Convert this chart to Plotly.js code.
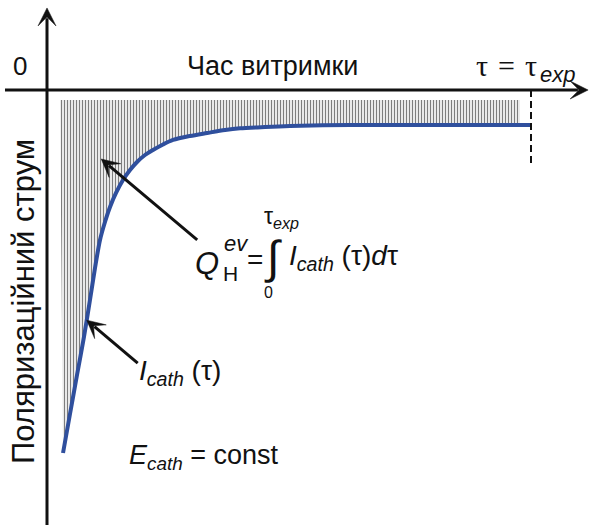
<!DOCTYPE html>
<html>
<head>
<meta charset="utf-8">
<script src="https://cdn.plot.ly/plotly-3.0.1.min.js"></script>
<style>
  html, body { margin: 0; padding: 0; background: #ffffff; }
  #chart { width: 590px; height: 525px; }
</style>
</head>
<body>
<div id="chart"></div>
<script>
// Cathodic polarisation current vs. exposure time (tau in units of tau_exp,
// current relative to its initial value; negative = cathodic).
const tau = [0.0331, 0.0475, 0.0620, 0.0764, 0.0888, 0.0992, 0.1095, 0.1198, 0.1302, 0.1426,
             0.1570, 0.1715, 0.1860, 0.2025, 0.2190, 0.2397, 0.2603, 0.2955, 0.3306, 0.3678,
             0.3988, 0.4504, 0.5021, 0.6260, 0.7707, 1.0000];
const current = [-1.0000, -0.8926, -0.7851, -0.6804, -0.5785, -0.4904, -0.4132, -0.3636, -0.3223, -0.2837,
                 -0.2479, -0.2204, -0.1983, -0.1791, -0.1653, -0.1501, -0.1377, -0.1267, -0.1185, -0.1102,
                 -0.1055, -0.1019, -0.0992, -0.0964, -0.0964, -0.0964];

// Hatched region standing for the evolved-hydrogen charge Q
const shadeTau = [0.027, 0.977];
const shadeTop = -0.0275;

// Exposure end marker
const tauExp = 1.0;

// Axis texts
const xTitle = 'Час витримки';
const yTitle = 'Поляризаційний струм';
const originLabel = '0';

const W = 590, H = 525;
const xRange = [-0.09711, 1.12190];
const yRange = [-1.19835, 0.24793];
const KX = W / (xRange[1] - xRange[0]);   // px per tau unit
const KY = H / (yRange[1] - yRange[0]);   // px per current unit

const fontFam = '"Liberation Sans", Arial, Helvetica, sans-serif';
const serifFam = '"Liberation Serif", "Times New Roman", serif';
const px = x => x / W;
const py = y => 1 - y / H;

const lastI = current[current.length - 1];

const traces = [
  {
    x: [shadeTau[0], shadeTau[1], shadeTau[1]],
    y: [shadeTop, shadeTop, lastI],
    mode: 'lines',
    line: { width: 0, color: 'rgba(0,0,0,0)' },
    hoverinfo: 'skip',
    showlegend: false
  },
  {
    x: tau,
    y: current,
    mode: 'lines',
    line: { color: '#2f4f9d', width: 4, shape: 'spline', smoothing: 0.8 },
    fill: 'tonexty',
    fillcolor: 'rgba(0,0,0,0)',
    fillpattern: { shape: '|', size: 3, solidity: 0.45, fgcolor: '#7d7d7d', bgcolor: 'rgba(255,255,255,0)', fillmode: 'replace' },
    hoverinfo: 'skip',
    showlegend: false
  }
];

// Arrow (line + notched head) from tail to tip, both in data coordinates
function arrowShapes(tipX, tipY, tailX, tailY, width, s) {
  const sx = (tipX - tailX) * KX, sy = -(tipY - tailY) * KY;
  const len = Math.hypot(sx, sy);
  const ux = sx / len, uy = sy / len;      // screen direction, y down
  const vx = -uy, vy = ux;
  const toData = (a, b) => [tipX + (a * ux + b * vx) / KX, tipY - (a * uy + b * vy) / KY];
  const head = [[0, 0], [-6 * s, -3 * s], [-3.2 * s, -0.2 * s], [-3.2 * s, 0.2 * s], [-6 * s, 3 * s]]
    .map(p => toData(p[0], p[1]));
  const path = 'M' + head.map(p => p[0].toFixed(5) + ',' + p[1].toFixed(5)).join('L') + 'Z';
  const end = toData(-3.4 * s, 0);
  return [
    { type: 'line', xref: 'x', yref: 'y', x0: tailX, y0: tailY, x1: end[0], y1: end[1],
      line: { color: '#111111', width: width } },
    { type: 'path', xref: 'x', yref: 'y', path: path,
      fillcolor: '#111111', line: { color: '#111111', width: 0.5 } }
  ];
}

function txt(text, x, y, size, extra) {
  const base = {
    text: text, xref: 'paper', yref: 'paper', x: px(x), y: py(y),
    xanchor: 'left', yanchor: 'middle', showarrow: false,
    font: { family: fontFam, size: size, color: '#111111' }
  };
  if (extra && extra.font) {
    base.font = Object.assign(base.font, extra.font);
    extra = Object.assign({}, extra);
    delete extra.font;
  }
  return Object.assign(base, extra || {});
}

const italic = { font: { style: 'italic' } };

const annotations = [
  txt(originLabel, 20, 66, 26, { xanchor: 'center' }),
  txt(xTitle, 272, 66, 27, { xanchor: 'center' }),
  txt('τ\u2004=\u2004τ', 474, 66, 30, { font: { family: serifFam } }),
  txt('exp', 538, 75, 22, italic),
  txt(yTitle, 23, 302, 31, { xanchor: 'center', textangle: -90 }),

  // Q_H^ev = integral from 0 to tau_exp of I_cath(tau) d tau
  txt('Q', 193, 263, 31, italic),
  txt('ev', 222, 244, 22, italic),
  txt('H', 221, 273, 21),
  txt('=', 245, 259, 28),
  txt('∫', 262, 257, 46),
  txt('τ<sub><i>exp</i></sub>', 262, 218, 23),
  txt('0', 262, 292, 16),
  txt('<i>I<sub>cath</sub></i> (τ)<i>d</i>τ', 287, 257, 28),

  txt('<i>I<sub>cath</sub></i> (τ)', 137, 372, 28),
  txt('<i>E<sub>cath</sub></i> = const', 127, 457, 27)
];

const shapes = [].concat(
  // axes
  arrowShapes(0, 0.226, 0, -1.2, 3, 3),
  arrowShapes(1.118, 0, -0.0868, 0, 3, 3),
  // pointer to the hatched charge area
  arrowShapes(0.112, -0.190, 0.112 + 96 / KX, -0.190 - 81 / KY, 3, 3),
  // pointer to the current curve
  arrowShapes(0.082, -0.634, 0.082 + 51 / KX, -0.634 - 43 / KY, 3, 3),
  [
    { type: 'line', xref: 'x', yref: 'y', x0: tauExp, x1: tauExp, y0: 0, y1: -0.201,
      line: { color: '#111111', width: 2, dash: '7px,4px' } }
  ]
);

const layout = {
  width: W, height: H,
  margin: { l: 0, r: 0, t: 0, b: 0, pad: 0 },
  paper_bgcolor: '#ffffff', plot_bgcolor: '#ffffff',
  xaxis: { range: xRange, visible: false, fixedrange: true },
  yaxis: { range: yRange, visible: false, fixedrange: true },
  showlegend: false,
  annotations: annotations,
  shapes: shapes
};

Plotly.newPlot('chart', traces, layout, { displayModeBar: false, staticPlot: true });
</script>
</body>
</html>
